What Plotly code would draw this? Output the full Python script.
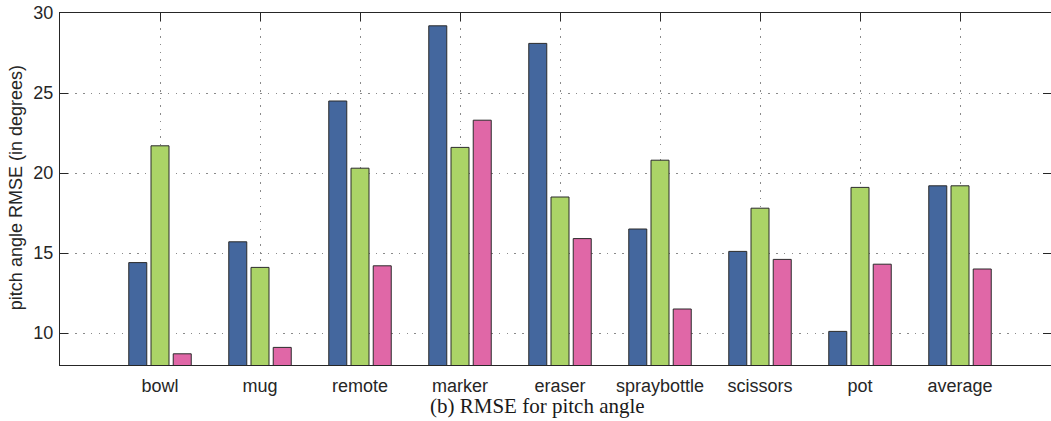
import plotly.graph_objects as go

# RMSE of the pitch angle estimate per object, for three methods
categories = ["bowl", "mug", "remote", "marker", "eraser", "spraybottle",
              "scissors", "pot", "average"]
method_a = [14.4, 15.7, 24.5, 29.2, 28.1, 16.5, 15.1, 10.1, 19.2]
method_b = [21.7, 14.1, 20.3, 21.6, 18.5, 20.8, 17.8, 19.1, 19.2]
method_c = [8.7, 9.1, 14.2, 23.3, 15.9, 11.5, 14.6, 14.3, 14.0]
y_ticks = [10, 15, 20, 25, 30]

colors = ["#44679e", "#abd367", "#e067a7"]
edge = "#2b2b2b"
axis_col = "#262626"
grid_col = "#8a8a8a"
grid_dash = "1.5px,6.2px"
sans = "Liberation Sans, Arial, sans-serif"
serif = "Liberation Serif, Times New Roman, serif"

fig = go.Figure()
for vals, col in zip([method_a, method_b, method_c], colors):
    fig.add_trace(go.Bar(
        x=categories, y=vals,
        marker=dict(color=col, line=dict(color=edge, width=1)),
        showlegend=False,
    ))

fig.update_layout(
    width=1051, height=421,
    margin=dict(l=60, r=0, t=13, b=56),
    paper_bgcolor="white", plot_bgcolor="white",
    barmode="group", bargap=0.333, bargroupgap=0.19,
    font=dict(family=sans, size=18, color=axis_col),
)

fig.update_xaxes(
    type="category", range=[-1, 8.91],
    showline=True, linecolor=axis_col, linewidth=1.2, mirror="ticks",
    ticks="inside", ticklen=8, tickcolor=axis_col, tickwidth=1.2,
    showgrid=True, gridcolor=grid_col, griddash=grid_dash, gridwidth=1,
    layer="below traces",
    tickfont=dict(family=sans, size=18, color=axis_col),
    ticklabelstandoff=4,
)
fig.update_yaxes(
    range=[8, 30], tickvals=y_ticks,
    showline=True, linecolor=axis_col, linewidth=1.2, mirror="ticks",
    ticks="inside", ticklen=8, tickcolor=axis_col, tickwidth=1.2,
    showgrid=True, gridcolor=grid_col, griddash=grid_dash, gridwidth=1,
    zeroline=False,
    tickfont=dict(family=sans, size=18, color=axis_col),
    ticklabelstandoff=2,
)

fig.add_annotation(
    text="pitch angle RMSE (in degrees)", textangle=-90,
    xref="paper", yref="paper", x=-0.0445, y=0.505,
    xanchor="center", yanchor="middle", showarrow=False,
    font=dict(family=sans, size=18, color=axis_col),
)
fig.add_annotation(
    text="(b) RMSE for pitch angle",
    xref="paper", yref="paper", x=0.4823, y=-0.117,
    xanchor="center", yanchor="middle", showarrow=False,
    font=dict(family=serif, size=21, color="#1a1a1a"),
)

fig.write_html("out.html")
